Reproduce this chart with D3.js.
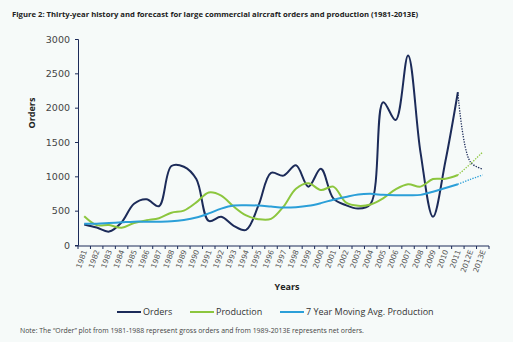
<!DOCTYPE html>
<html>
<head>
<meta charset="utf-8">
<script src="https://cdn.jsdelivr.net/npm/d3@7"></script>
<style>
  body { margin: 0; background: #f6faf9; }
  svg { display: block; font-family: 'Open Sans', sans-serif; }
</style>
</head>
<body>
<div id="chart"></div>
<script>
const years = ['1981','1982','1983','1984','1985','1986','1987','1988','1989','1990',
  '1991','1992','1993','1994','1995','1996','1997','1998','1999','2000',
  '2001','2002','2003','2004','2005','2006','2007','2008','2009','2010',
  '2011','2012E','2013E']
const orders = [300, 255, 195, 330, 600, 665, 565, 1150, 1140, 960,
  350, 410, 280, 220, 580, 1050, 1010, 1160, 850, 1110,
  680, 580, 530, 600, 2080, 1820, 2760, 1350, 410, 1220,
  2225, 1210, 1105]
const production = [420, 290, 290, 250, 320, 360, 390, 470, 500, 620,
  765, 720, 560, 430, 375, 380, 560, 820, 900, 800,
  850, 620, 570, 590, 680, 810, 885, 850, 960, 965,
  1020, 1180, 1355]
const movingAvg = [310, 310, 320, 330, 340, 340, 340, 345, 365, 400,
  460, 530, 575, 580, 575, 560, 545, 550, 570, 610,
  660, 700, 735, 745, 730, 725, 725, 730, 775, 830,
  885, 955, 1020]
const yTicks = [0, 500, 1000, 1500, 2000, 2500, 3000]

const W = 513, H = 342
const margin = {top: 39, left: 78, right: 24, bottom: 100}
const plotW = W - margin.left - margin.right
const plotH = H - margin.top - margin.bottom + 3

const svg = d3.select('#chart').append('svg')
  .attr('width', W).attr('height', H)

svg.append('rect').attr('width', W).attr('height', H).attr('fill', '#f6faf9')

// title
svg.append('text')
  .attr('x', 12).attr('y', 17)
  .attr('font-size', 7.7).attr('font-weight', 'bold').attr('fill', '#222')
  .text('Figure 2: Thirty-year history and forecast for large commercial aircraft orders and production (1981-2013E)')

const g = svg.append('g').attr('transform', `translate(${margin.left},${margin.top})`)

const x = d3.scaleBand().domain(years).range([0, plotW])
const y = d3.scaleLinear().domain([0, 3000]).range([plotH, 0])

const axisColor = '#1c2b59'

// y axis
const yAxis = g.append('g').call(d3.axisLeft(y).tickValues(yTicks).tickFormat(d3.format('d')).tickSize(3).tickPadding(5))
yAxis.select('.domain').attr('stroke', axisColor)
yAxis.selectAll('.tick line').attr('stroke', axisColor)
yAxis.selectAll('text').attr('fill', '#444')
  .attr('font-family', "'DejaVu Sans', sans-serif").style('font-size', '9.5px')

// x axis
const xAxis = g.append('g').attr('transform', `translate(0,${plotH + 1})`)
  .call(d3.axisBottom(x).tickSize(0).tickFormat(''))
xAxis.select('.domain').attr('stroke', axisColor).attr('d', `M-3,0H${plotW}`)
// tick marks at band boundaries
g.append('g').selectAll('line').data(d3.range(years.length + 1)).join('line')
  .attr('x1', i => i * x.step()).attr('x2', i => i * x.step())
  .attr('y1', plotH + 1).attr('y2', plotH + 4)
  .attr('stroke', axisColor)
g.append('g').selectAll('text').data(years).join('text')
  .attr('transform', d => `translate(${x(d) + x.bandwidth() / 2 + 3},${plotH + 6}) rotate(-70)`)
  .attr('text-anchor', 'end')
  .attr('font-family', "'DejaVu Sans', sans-serif")
  .attr('font-size', 7.4).attr('fill', '#555')
  .text(d => d)

// axis titles
svg.append('text')
  .attr('transform', 'translate(35,113) rotate(-90)')
  .attr('text-anchor', 'middle').attr('font-size', 9).attr('font-weight', 'bold').attr('fill', '#222')
  .text('Orders')
svg.append('text')
  .attr('x', 287).attr('y', 290)
  .attr('text-anchor', 'middle').attr('font-size', 9).attr('font-weight', 'bold').attr('fill', '#222')
  .text('Years')

// lines
const cx = i => x(years[i]) + x.bandwidth() / 2
const line = d3.line().x(d => cx(d[0])).y(d => y(d[1])).curve(d3.curveCatmullRom.alpha(0.5))
const series = [
  {name: 'Orders', values: orders, color: '#1c2b59'},
  {name: 'Production', values: production, color: '#8cc63e'},
  {name: '7 Year Moving Avg. Production', values: movingAvg, color: '#2b9fd8'}
]
const lastActual = years.indexOf('2011')
series.forEach(s => {
  const pts = s.values.map((v, i) => [i, v])
  g.append('path').datum(pts.slice(0, lastActual + 1))
    .attr('d', line).attr('fill', 'none').attr('stroke', s.color).attr('stroke-width', 2)
  g.append('path').datum(pts.slice(lastActual))
    .attr('d', line).attr('fill', 'none').attr('stroke', s.color)
    .attr('stroke-width', 1.3).attr('stroke-dasharray', '1.3,1.3')
})

// legend
const legendX = [117, 190, 280]
const legend = svg.append('g').selectAll('g').data(series).join('g')
  .attr('transform', (d, i) => `translate(${legendX[i]},312)`)
legend.append('line').attr('x1', 0).attr('x2', 24).attr('y1', 0).attr('y2', 0)
  .attr('stroke', d => d.color).attr('stroke-width', 2)
legend.append('text').attr('x', 26).attr('y', 3.3)
  .attr('font-size', 9).attr('fill', '#333').text(d => d.name)

// note
svg.append('text')
  .attr('x', 20).attr('y', 333)
  .attr('font-size', 6.9).attr('fill', '#444')
  .text('Note: The \u201cOrder\u201d plot from 1981-1988 represent gross orders and from 1989-2013E represents net orders.')
</script>
</body>
</html>
